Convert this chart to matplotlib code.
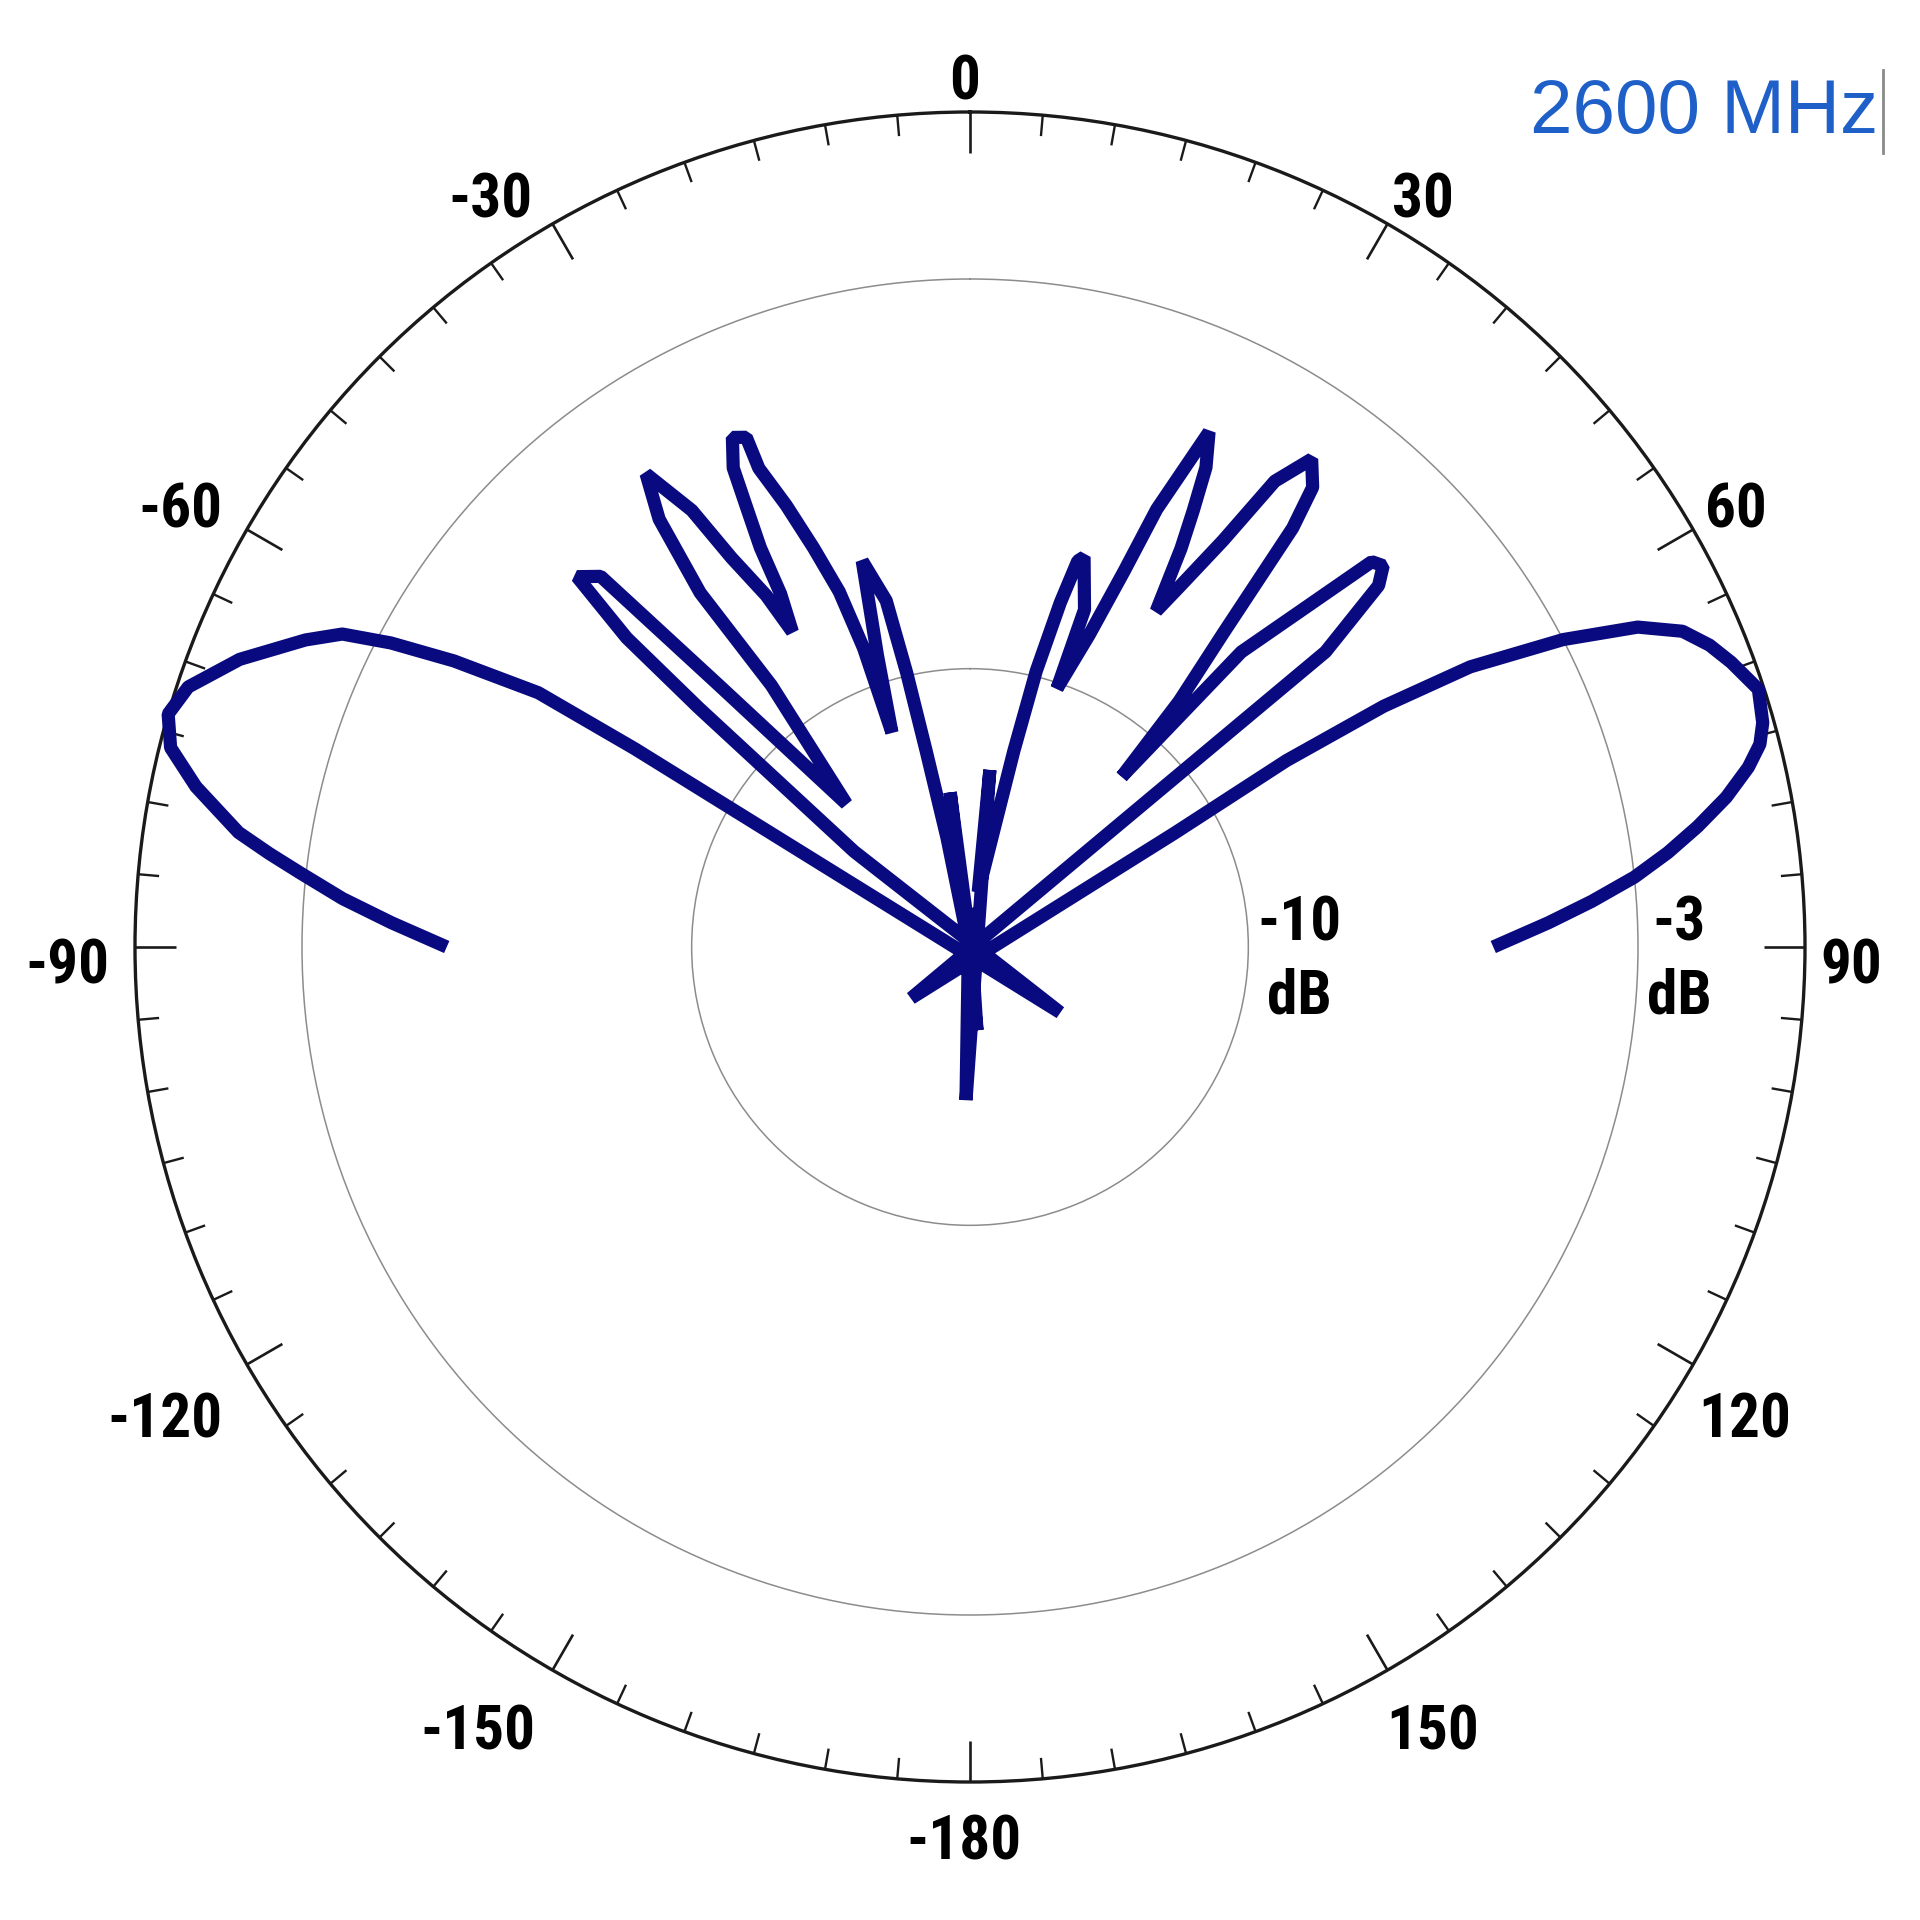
import numpy as np
import matplotlib
matplotlib.use("Agg")
import matplotlib.pyplot as plt
from matplotlib.lines import Line2D

# radiation pattern: angle (deg, clockwise from top) and gain (dB)
angle_deg = [
    -90.0, -87.6, -85.6, -83.7, -82.4, -81.1, -78.3, -76.0, -73.8, -71.6, -68.5, -65.2,
    -63.5, -62.3, -61.0, -59.5, -59.4, -54.0,
    -50.5, -48.6, -48.0, -46.7, -44.9, -43.8, -40.8,
    -37.2, -37.3, -36.0, -34.4, -32.5, -31.5, -30.1, -29.4,
    -28.2, -27.7, -26.9, -26.3, -25.0, -23.7, -23.8, -22.6, -21.4, -20.2, -19.6, -20.0,
    -17.6, -15.6, -13.6, -13.0, -12.6, -11.9, -9.5, -7.3, -4.8, -1.5, 1.5, 6.4, 8.5,
    12.6, 13.5, 14.7, 15.6, 16.3, 18.75, 18.6,
    20.9, 22.3, 23.1, 24.9, 26.2, 27.1, 27.9, 29.0,
    30.2, 31.9, 33.2, 35.0, 36.7, 37.6, 38.9, 40.4, 41.7,
    42.6, 44.7, 46.2, 47.3, 48.5, 50.3, 49.0,
    60.9, 59.5, 59.8, 60.75, 62.6, 64.4, 66.1, 67.8, 69.5, 71.9, 74.2, 75.6, 77.0,
    78.8, 80.6, 82.3, 84.0, 85.8, 87.6, 90.0,
]
gain_db = [
    -5.6, -4.6, -3.7, -2.9, -2.3, -1.7, -0.8, -0.2, 0.0, -0.2, -0.9, -1.85,
    -2.4, -3.25, -4.4, -6.0, -8.0, -17.0,
    -12.3, -8.5, -6.7, -5.3, -5.6, -8.5, -11.6,
    -9.1, -7.0, -5.5, -4.7, -5.7, -6.8, -7.7, -8.5,
    -7.8, -6.9, -6.1, -5.4, -4.9, -5.0, -5.6, -6.4, -7.3, -8.2, -9.3, -10.9,
    -9.5, -7.8, -8.6, -9.95, -11.4, -13.0, -15.4, -12.2, -16.5, -14.3, -17.75, -11.8, -14.0,
    -11.4, -9.9, -8.6, -7.8, -7.7, -8.6, -10.1,
    -9.0, -7.7, -6.45, -4.8, -5.4, -6.2, -6.9, -8.1,
    -7.5, -6.4, -5.0, -4.3, -4.7, -5.5, -7.75, -9.2, -10.9,
    -7.8, -6.4, -5.0, -4.9, -5.2, -6.7, -16.4,
    -10.8, -8.4, -6.4, -4.7, -3.0, -1.7, -1.0, -0.65, -0.4, -0.1, -0.2, -0.35, -0.65,
    -1.15, -1.75, -2.35, -3.0, -3.8, -4.6, -5.6,
]

r_min, r_max = -15, 0
rings = [-10, -3]
ring_labels = ["-10\ndB", "-3\ndB"]
major_ticks = list(range(0, 360, 30))
minor_ticks = [a for a in range(0, 360, 5) if a % 30]
angle_labels = ["0", "30", "60", "90", "120", "150", "-180", "-150", "-120", "-90", "-60", "-30"]
freq_label = "2600 MHz"

# figure geometry (pixels)
W = 1920
cx, cy, R = 970, 947, 835
px_per_db = R / (r_max - r_min)
# where each angle label sits (pixel centre, from top-left)
label_px = [(965, 83), (1423, 201), (1736, 511), (1851, 967), (1745, 1420), (1433, 1732),
            (964, 1842), (478, 1732), (165, 1420), (67, 967), (180, 511), (490, 201)]

fig = plt.figure(figsize=(W / 100, W / 100), dpi=100)
ax = fig.add_axes([(cx - R) / W, (W - cy - R) / W, 2 * R / W, 2 * R / W], projection="polar")
ax.set_theta_zero_location("N")
ax.set_theta_direction(-1)
ax.set_ylim(r_min, r_max)

# values below the floor are drawn through the centre to the opposite side
th = np.deg2rad(np.array(angle_deg))
g = np.array(gain_db)
below = g < r_min
th_plot = np.where(below, th + np.pi, th)
r_plot = np.where(below, 2 * r_min - g, g)
ax.plot(th_plot, r_plot, color="#0a0a80", lw=9.5, solid_joinstyle="bevel",
        solid_capstyle="butt", clip_on=False, zorder=5)

# grid rings
ax.set_yticks(rings)
ax.set_yticklabels([])
ax.yaxis.grid(True, color="#8c8c8c", lw=1.1)
ax.xaxis.grid(False)
ax.set_xticks([])
ax.spines["polar"].set_color("#1a1a1a")
ax.spines["polar"].set_linewidth(2.4)

# inward ticks on the outer circle
ax.vlines(np.deg2rad(minor_ticks), r_max - 21 / px_per_db, r_max, color="#1a1a1a", lw=1.7)
ax.vlines(np.deg2rad(major_ticks), r_max - 41 / px_per_db, r_max, color="#1a1a1a", lw=1.9)

lab_font = dict(family=["DejaVu Sans Condensed", "Liberation Sans Narrow", "Roboto Condensed",
                        "Roboto", "DejaVu Sans"],
                stretch="condensed", weight="black", size=44)

for (px, py), lab in zip(label_px, angle_labels):
    fig.text(px / W, 1 - py / W, lab, ha="center", va="center", **lab_font)

for rv, lab in zip(rings, ring_labels):
    x = cx + (rv - r_min) * px_per_db + 9
    fig.text(x / W, 1 - 960 / W, lab, ha="left", va="center", multialignment="center",
             linespacing=1.33, **lab_font)

fig.text(1878 / W, 1 - 114 / W, freq_label, ha="right", va="center", color="#1f5fc8",
         family=["Liberation Sans", "DejaVu Sans"], size=55)
fig.add_artist(Line2D([1883 / W, 1883 / W], [1 - 70 / W, 1 - 153 / W], color="#8a8a8a", lw=2))

fig.savefig("out.png", dpi=100, facecolor="white")
